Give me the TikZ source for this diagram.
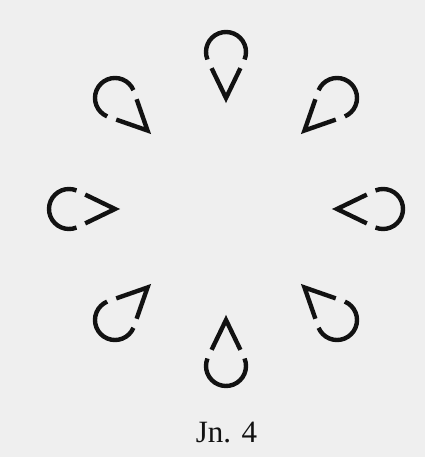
\documentclass[tikz,border=0pt]{standalone}
\usepackage{fontspec}
\setmainfont{Liberation Serif}
\definecolor{paper}{RGB}{239,239,239}
\definecolor{ink}{RGB}{18,18,18}
\tikzset{
  dropline/.style={draw=ink, line width=4.4pt, line cap=butt, line join=miter},
  drop/.pic={
    \draw[dropline] (202:20pt) arc[start angle=202, end angle=-22, radius=20pt];
    \draw[dropline] (-14.4pt,-16.2pt) -- (0pt,-46pt) -- (14.4pt,-16.2pt);
  },
  caption/.style={font=\fontsize{31}{34}\selectfont, text=ink, inner sep=0pt, anchor=base}
}
\begin{document}
\begin{tikzpicture}
  \fill[paper] (0pt,0pt) rectangle (425pt,457pt);
  \useasboundingbox (0pt,0pt) rectangle (425pt,457pt);
  \coordinate (c) at (226pt,248pt);
  \foreach \a in {0,45,...,315} {
    \pic[rotate=\a-90] at ([shift={(\a:157pt)}]c) {drop};
  }
  \node[caption] (cap) at (226.5pt,14pt) {Jn. 4};
\end{tikzpicture}
\end{document}
